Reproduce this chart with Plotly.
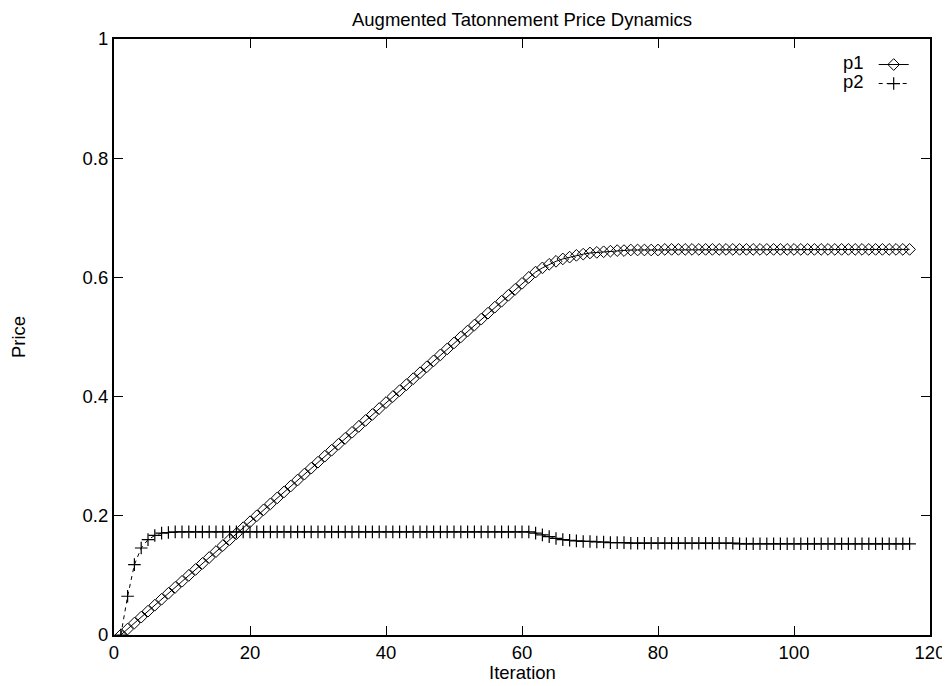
import plotly.graph_objects as go

iteration = list(range(1, 118))

p1 = [
    0.000, 0.010, 0.020, 0.030, 0.040, 0.050, 0.060, 0.070, 0.080, 0.090,
    0.100, 0.110, 0.120, 0.130, 0.140, 0.150, 0.160, 0.170, 0.180, 0.190,
    0.200, 0.210, 0.220, 0.230, 0.240, 0.250, 0.260, 0.270, 0.280, 0.290,
    0.300, 0.310, 0.320, 0.330, 0.340, 0.350, 0.360, 0.370, 0.380, 0.390,
    0.400, 0.410, 0.420, 0.430, 0.440, 0.450, 0.460, 0.470, 0.480, 0.490,
    0.500, 0.510, 0.520, 0.530, 0.540, 0.550, 0.560, 0.570, 0.580, 0.590,
    0.600, 0.609, 0.616, 0.622, 0.627, 0.631, 0.634, 0.637, 0.639, 0.641,
    0.642, 0.643, 0.644, 0.645, 0.645, 0.646, 0.646, 0.646, 0.646, 0.646,
    0.647, 0.647, 0.647, 0.647, 0.647, 0.647, 0.647, 0.647, 0.647, 0.647,
    0.647, 0.647, 0.647, 0.647, 0.647, 0.647, 0.647, 0.647, 0.647, 0.647,
    0.647, 0.647, 0.647, 0.647, 0.647, 0.647, 0.647, 0.647, 0.647, 0.647,
    0.647, 0.647, 0.647, 0.647, 0.647, 0.647, 0.647,
]

p2 = [
    0.000, 0.065, 0.118, 0.146, 0.160, 0.167, 0.171, 0.172, 0.173, 0.173,
    0.173, 0.173, 0.173, 0.173, 0.173, 0.173, 0.173, 0.173, 0.173, 0.173,
    0.173, 0.173, 0.173, 0.173, 0.173, 0.173, 0.173, 0.173, 0.173, 0.173,
    0.173, 0.173, 0.173, 0.173, 0.173, 0.173, 0.173, 0.173, 0.173, 0.173,
    0.173, 0.173, 0.173, 0.173, 0.173, 0.173, 0.173, 0.173, 0.173, 0.173,
    0.173, 0.173, 0.173, 0.173, 0.173, 0.173, 0.173, 0.173, 0.173, 0.173,
    0.173, 0.171, 0.168, 0.165, 0.162, 0.160, 0.159, 0.158, 0.157, 0.157,
    0.156, 0.156, 0.155, 0.155, 0.155, 0.154, 0.154, 0.154, 0.154, 0.154,
    0.154, 0.154, 0.154, 0.154, 0.154, 0.154, 0.154, 0.154, 0.154, 0.154,
    0.154, 0.153, 0.153, 0.153, 0.153, 0.153, 0.153, 0.153, 0.153, 0.153,
    0.153, 0.153, 0.153, 0.153, 0.153, 0.153, 0.153, 0.153, 0.153, 0.153,
    0.153, 0.153, 0.153, 0.153, 0.153, 0.153, 0.153,
]

series_names = ["p1", "p2"]
x_ticks = [0, 20, 40, 60, 80, 100, 120]
x_tick_labels = ["0", "20", "40", "60", "80", "100", "120"]
y_ticks = [0, 0.2, 0.4, 0.6, 0.8, 1.0]
y_tick_labels = ["0", "0.2", "0.4", "0.6", "0.8", "1"]

FONT = "Liberation Sans, Arial, Helvetica, sans-serif"
FS = 18.5

fig = go.Figure()
fig.add_trace(go.Scatter(
    x=iteration, y=p1, mode="lines+markers", name="",
    line=dict(color="black", width=1),
    marker=dict(symbol="diamond-open", size=9, color="black", line=dict(width=1)),
))
fig.add_trace(go.Scatter(
    x=iteration, y=p2, mode="lines+markers", name="",
    line=dict(color="black", width=1, dash="4px,4px"),
    marker=dict(symbol="cross-thin-open", size=9, color="black", line=dict(width=1.2, color="black")),
))

axis_common = dict(
    showgrid=False, zeroline=False, showline=True, linecolor="black", linewidth=2,
    mirror="allticks", ticks="inside", ticklen=9, tickwidth=1.2, tickcolor="black",
    tickfont=dict(family=FONT, size=FS, color="black"),
    ticklabeloverflow="allow", automargin=False,
)

txt = dict(family=FONT, size=FS, color="black")

# legend labels (text to the left of the sample, gnuplot-style)
leg_y = [0.9614, 0.9295]
annotations = [
    dict(text=series_names[i], x=0.9216, y=leg_y[i], xref="paper", yref="paper",
         xanchor="right", yanchor="middle", showarrow=False, font=txt)
    for i in range(2)
]
# axis titles
annotations.append(dict(text="Iteration", x=0.5, y=-0.0630, xref="paper", yref="paper",
                        xanchor="center", yanchor="middle", showarrow=False, font=txt))
annotations.append(dict(text="Price", x=-0.1176, y=0.5, xref="paper", yref="paper",
                        xanchor="center", yanchor="middle", textangle=-90,
                        showarrow=False, font=txt))

fig.update_layout(
    width=942, height=678,
    margin=dict(l=106, r=20, t=31, b=51),
    paper_bgcolor="white", plot_bgcolor="white",
    font=txt,
    title=dict(text="Augmented Tatonnement Price Dynamics", x=0.5, xref="paper", xanchor="center",
               y=1 - 11.5 / 678, yanchor="middle", font=txt),
    xaxis=dict(range=[0, 120], tickvals=x_ticks, ticktext=x_tick_labels, **axis_common),
    yaxis=dict(range=[0, 1], tickvals=y_ticks, ticktext=y_tick_labels, **axis_common),
    legend=dict(x=0.931, y=0.9815, xanchor="left", yanchor="top", bgcolor="rgba(0,0,0,0)",
                borderwidth=0, font=dict(family=FONT, size=9), tracegroupgap=0),
    annotations=annotations,
    showlegend=True,
)

fig.write_html("out.html")
